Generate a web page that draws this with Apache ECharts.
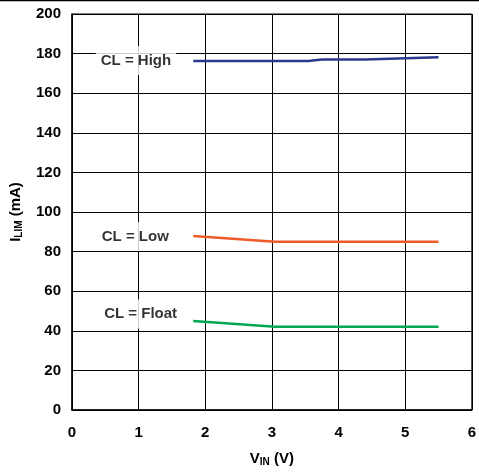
<!DOCTYPE html>
<html><head><meta charset="utf-8">
<script src="https://cdn.jsdelivr.net/npm/echarts@6/dist/echarts.min.js"></script>
<style>html,body{margin:0;padding:0;background:#fff;overflow:hidden}#c{width:479px;height:472px}</style>
</head><body><div id="c"></div>
<script>
var highX = [1.82, 3.55, 3.75, 4.4, 5.5];
var highY = [176.3, 176.3, 177.0, 177.0, 178.2];
var lowX = [1.82, 3.05, 5.5];
var lowY = [87.9, 85.0, 85.0];
var floatX = [1.82, 3.05, 5.5];
var floatY = [45.0, 42.1, 42.1];
var labelNames = ['CL = High', 'CL = Low', 'CL = Float'];
var labelX = [0.96, 0.95, 1.03];
var labelY = [176.5, 87.6, 48.5];
var xTicks = [0, 1, 2, 3, 4, 5, 6];
var yTicks = [0, 20, 40, 60, 80, 100, 120, 140, 160, 180, 200];

function pairs(xs, ys){ return xs.map(function(x,i){return [x, ys[i]];}); }
var font = 'Liberation Sans, Arial, sans-serif';
var chart = echarts.init(document.getElementById('c'), null, {renderer:'canvas'});
chart.setOption({
  animation: false,
  backgroundColor: '#fff',
  grid: {left: 69, right: 5, top: 14, bottom: 59, show: true, borderColor: '#000', borderWidth: 1, containLabel: false},
  xAxis: {
    type: 'value', min: xTicks[0], max: xTicks[xTicks.length-1], interval: 1,
    axisLine: {show: true, onZero: false, lineStyle: {color: '#000', width: 1.5}},
    axisTick: {show: false},
    splitLine: {show: true, lineStyle: {color: '#000', width: 1}},
    axisLabel: {color: '#000', fontFamily: font, fontWeight: 'bold', fontSize: 15, margin: 15},
    name: '{m|V}{s|IN}{m| (V)}', nameLocation: 'middle', nameGap: 40,
    nameTextStyle: {rich: {m: {fontFamily: font, fontWeight: 'bold', fontSize: 15, color: '#000'}, s: {fontFamily: font, fontWeight: 'bold', fontSize: 10, color: '#000', padding: [7,0,0,0]}}}
  },
  yAxis: {
    type: 'value', min: yTicks[0], max: yTicks[yTicks.length-1], interval: 20,
    axisLine: {show: true, onZero: false, lineStyle: {color: '#000', width: 1.5}},
    axisTick: {show: false},
    splitLine: {show: true, lineStyle: {color: '#000', width: 1}},
    axisLabel: {color: '#000', fontFamily: font, fontWeight: 'bold', fontSize: 15, margin: 11},
    name: '{m|I}{s|LIM}{m| (mA)}', nameLocation: 'middle', nameGap: 48, nameRotate: 90,
    nameTextStyle: {rich: {m: {fontFamily: font, fontWeight: 'bold', fontSize: 15, color: '#000'}, s: {fontFamily: font, fontWeight: 'bold', fontSize: 10, color: '#000', padding: [7,0,0,0]}}}
  },
  series: [
    {type: 'line', data: pairs(highX, highY), symbol: 'none', lineStyle: {color: '#2B3990', width: 2.5}, z: 3},
    {type: 'line', data: pairs(lowX, lowY), symbol: 'none', lineStyle: {color: '#F15A29', width: 2.5}, z: 3},
    {type: 'line', data: pairs(floatX, floatY), symbol: 'none', lineStyle: {color: '#00A651', width: 2.5}, z: 3},
    {type: 'scatter', symbolSize: 0, z: 4,
     data: labelNames.map(function(n,i){return {name: n, value: [labelX[i], labelY[i]]};}),
     label: {show: true, position: 'inside', formatter: '{b}', color: '#000', fontFamily: font, fontWeight: 'bold', fontSize: 15,
             backgroundColor: '#fff', padding: [7, 5, 7, 5]}}
  ],
  graphic: [{type: 'line', shape: {x1: 0, y1: 0.5, x2: 479, y2: 0.5}, style: {stroke: '#000', lineWidth: 1.5}}]
});
</script></body></html>
